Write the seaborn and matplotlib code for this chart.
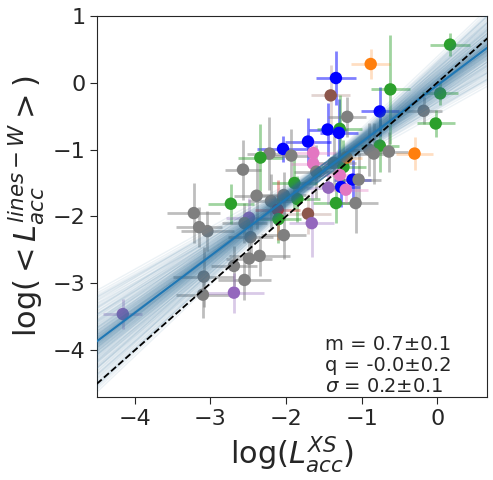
import numpy as np
import pandas as pd
import seaborn as sns
import matplotlib
matplotlib.use("Agg")
import matplotlib.pyplot as plt

# datos (log L_acc X-shooter vs log <L_acc lines-W>)
grupo = ["green", "orange", "blue", "brown", "green", "green", "gray", "blue", "gray", "green",
         "blue", "green", "blue", "blue", "green", "orange", "gray", "gray", "gray", "blue",
         "gray", "green", "gray", "pink", "pink", "gray", "gray", "gray", "green", "orange",
         "pink", "blue", "gray", "blue", "pink", "purple", "green", "gray", "gray", "gray",
         "green", "red", "green", "green", "brown", "purple", "green", "gray", "gray", "gray",
         "gray", "purple", "gray", "gray", "gray", "gray", "gray", "gray", "gray", "gray",
         "gray", "purple", "purple"]
log_xs = [0.17, -0.88, -1.34, -1.41, -0.62, 0.04, -1.19, -0.76, -0.18, -0.02,
          -1.45, -1.29, -1.30, -1.71, -0.76, -0.30, -0.90, -0.84, -0.64, -2.04,
          -2.22, -2.34, -1.93, -1.64, -1.64, -2.57, -1.60, -1.37, -1.24, -1.20,
          -1.29, -1.12, -1.04, -1.27, -1.21, -1.44, -1.89, -2.39, -2.20, -2.03,
          -2.73, -2.11, -1.85, -2.10, -1.71, -1.66, -1.34, -1.08, -3.22, -3.15,
          -3.04, -2.49, -2.55, -2.47, -2.03, -2.49, -2.35, -2.69, -2.55, -3.09,
          -3.10, -2.69, -4.16]
log_lines = [0.57, 0.28, 0.07, -0.19, -0.10, -0.16, -0.51, -0.43, -0.42, -0.61,
             -0.70, -0.69, -0.75, -0.88, -0.94, -1.06, -1.00, -1.06, -1.03, -0.99,
             -1.06, -1.12, -1.09, -1.05, -1.21, -1.30, -1.33, -1.20, -1.26, -1.12,
             -1.38, -1.45, -1.45, -1.56, -1.60, -1.57, -1.50, -1.69, -1.77, -1.68,
             -1.81, -1.90, -1.74, -2.04, -1.96, -2.10, -1.80, -1.80, -1.95, -2.16,
             -2.22, -2.02, -2.10, -2.31, -2.28, -2.63, -2.59, -2.74, -2.95, -2.90,
             -3.17, -3.14, -3.46]
err_xs = [0.26, 0.26, 0.26, 0.26, 0.26, 0.24, 0.25, 0.25, 0.25, 0.25,
          0.25, 0.30, 0.25, 0.30, 0.25, 0.25, 0.25, 0.25, 0.25, 0.35,
          0.30, 0.30, 0.30, 0.30, 0.30, 0.24, 0.30, 0.30, 0.30, 0.20,
          0.30, 0.25, 0.30, 0.25, 0.30, 0.30, 0.30, 0.30, 0.30, 0.30,
          0.30, 0.30, 0.30, 0.30, 0.30, 0.30, 0.30, 0.30, 0.35, 0.30,
          0.35, 0.30, 0.30, 0.30, 0.30, 0.30, 0.40, 0.30, 0.35, 0.40,
          0.35, 0.40, 0.26]
err_lines = [0.17, 0.22, 0.40, 0.45, 0.82, 0.18, 0.30, 0.36, 0.20, 0.20,
             0.40, 0.50, 0.50, 0.35, 0.40, 0.25, 0.40, 0.45, 0.30, 0.20,
             0.55, 0.50, 0.40, 0.20, 0.20, 0.45, 0.40, 0.40, 0.40, 0.15,
             0.25, 0.30, 0.40, 0.30, 0.20, 0.25, 0.40, 0.50, 0.40, 0.35,
             0.30, 0.45, 0.35, 0.35, 0.30, 0.50, 0.30, 0.45, 0.45, 0.30,
             0.30, 0.30, 0.30, 0.30, 0.35, 0.35, 0.30, 0.30, 0.30, 0.45,
             0.35, 0.30, 0.22]

# ajuste y muestras del posterior (pendiente, valor en x = -1.5)
m_fit = 0.85
y_piv = -1.315
m_samples = [0.63, 0.68, 0.72, 0.75, 0.78, 0.80, 0.82, 0.83, 0.84, 0.85,
             0.86, 0.87, 0.88, 0.90, 0.92, 0.95, 0.98, 1.02, 1.07]
piv_samples = [-0.10, -0.06, -0.03, -0.01, 0.0, 0.01, 0.03, 0.06, 0.10]

colores = {"gray": "tab:gray", "green": "tab:green", "blue": "blue", "orange": "tab:orange",
           "brown": "tab:brown", "pink": "tab:pink", "purple": "tab:purple", "red": "tab:red"}
alfa_err = {"gray": 0.5, "green": 0.45, "blue": 0.5, "orange": 0.25,
            "brown": 0.25, "pink": 0.35, "purple": 0.35, "red": 0.4}

df = pd.DataFrame({"xs": log_xs, "lines": log_lines, "ex": err_xs, "ey": err_lines, "grupo": grupo})

sns.set_style("ticks")
plt.rcParams['font.family'] = ['DejaVu Sans']
fig, ax = plt.subplots(figsize=(4.93, 4.8), dpi=100)
fig.subplots_adjust(left=0.197, right=0.988, bottom=0.173, top=0.967)

for g, d in df.groupby("grupo"):
    ax.errorbar(d["xs"], d["lines"], xerr=d["ex"], yerr=d["ey"], fmt="none",
                ecolor=colores[g], alpha=alfa_err[g], elinewidth=2, zorder=1)

sns.scatterplot(data=df, x="xs", y="lines", hue="grupo", palette=colores, s=80,
                linewidth=0, legend=False, ax=ax, zorder=2)

xx = np.array([-4.6, 0.8])
for m in m_samples:
    for p in piv_samples:
        ax.plot(xx, y_piv + p + m * (xx + 1.5), color="#2f6f9a", alpha=0.09, lw=1, zorder=3)
ax.plot(xx, y_piv + m_fit * (xx + 1.5), color="tab:blue", lw=1.5, zorder=4)
ax.plot(xx, xx, "k--", lw=1.3, zorder=4)

ax.set_xlim(-4.5, 0.66)
ax.set_ylim(-4.7, 1)
ax.set_xticks([-4, -3, -2, -1, 0])
ax.set_yticks([-4, -3, -2, -1, 0, 1])
ax.tick_params(labelsize=16, length=5)
ax.set_xlabel(r"log($L_{acc}^{XS}$)", fontsize=22)
ax.set_ylabel(r"log($<L_{acc}^{lines-W}>$)", fontsize=22)

ax.text(0.585, 0.113, "m = 0.7±0.1", transform=ax.transAxes, fontsize=14, va="bottom")
ax.text(0.585, 0.058, "q = -0.0±0.2", transform=ax.transAxes, fontsize=14, va="bottom")
ax.text(0.585, 0.003, r"$\sigma$ = 0.2±0.1", transform=ax.transAxes, fontsize=14, va="bottom")

plt.savefig("out.png", dpi=100)
